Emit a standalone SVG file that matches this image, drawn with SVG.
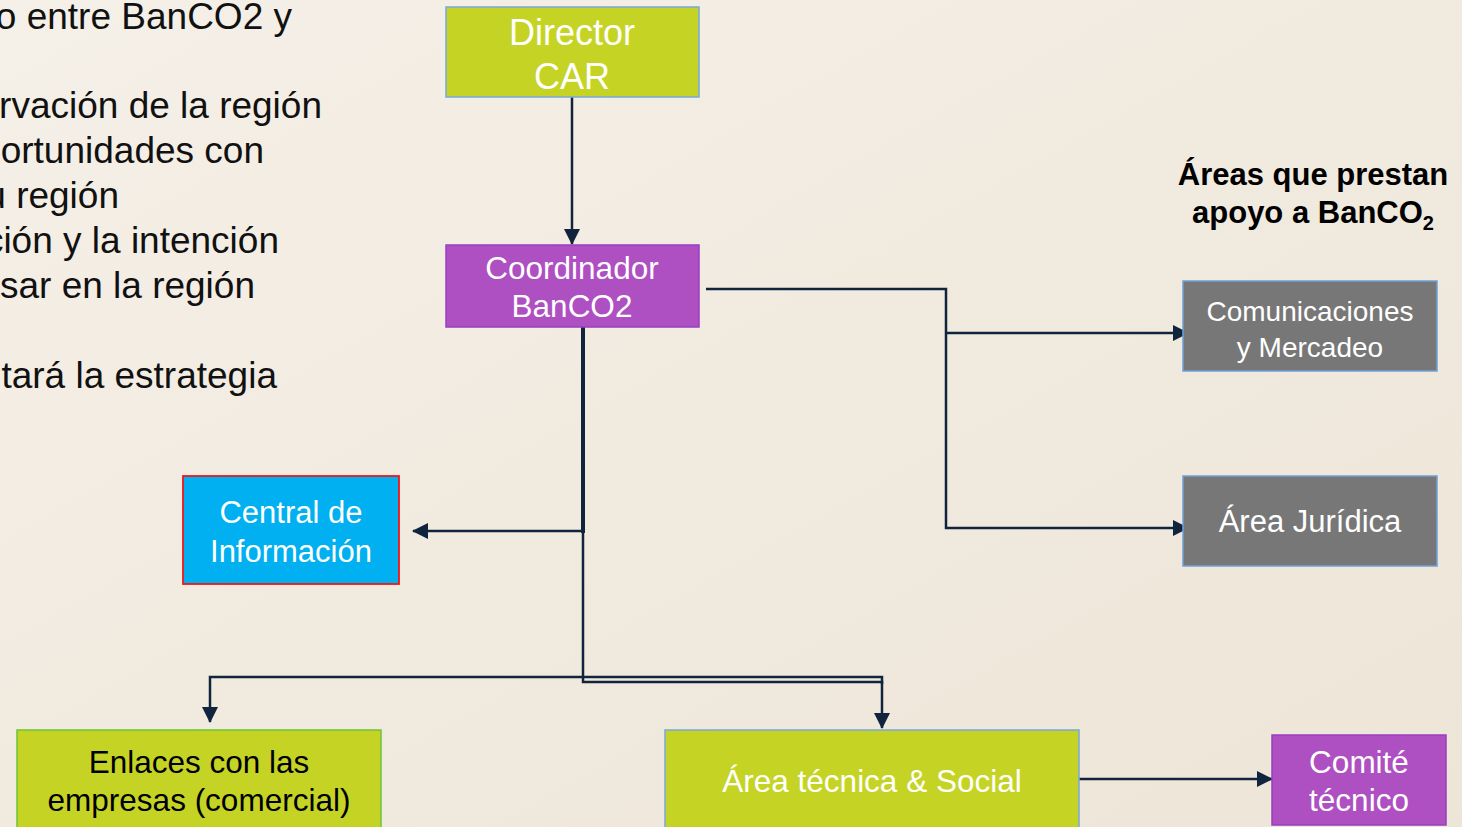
<svg xmlns="http://www.w3.org/2000/svg" width="1462" height="827" viewBox="0 0 1462 827">
<defs>
<linearGradient id="bg" x1="0" y1="0" x2="1" y2="1">
<stop offset="0" stop-color="#f5f0e8"/>
<stop offset="0.5" stop-color="#f1eadf"/>
<stop offset="1" stop-color="#ede5d7"/>
</linearGradient>
<marker id="arr" markerUnits="userSpaceOnUse" markerWidth="16" markerHeight="16" refX="15" refY="8" orient="auto">
<path d="M0,0 L16,8 L0,16 Z" fill="#10243e"/>
</marker>
</defs>
<style>
.t{font-family:"Liberation Sans",Arial,sans-serif;}
.w{fill:#ffffff;text-anchor:middle;}
.k{fill:#000000;text-anchor:middle;}
.side{font-size:37px;fill:#111111;text-anchor:end;}
.conn{fill:none;stroke:#10243e;stroke-width:2.5;}
.green{fill:#c5d424;}
.purple{fill:#ae4fc2;stroke:#9a3ec0;stroke-width:1.5;}
.gray{fill:#777777;stroke:#6fa0d8;stroke-width:1.5;}
</style>
<rect x="0" y="0" width="1462" height="827" fill="url(#bg)"/>

<g id="side-text" class="t side">
<text x="292" y="29">o entre BanCO2 y</text>
<text x="322" y="118">rvación de la región</text>
<text x="264" y="163">ortunidades con</text>
<text x="119" y="208">u región</text>
<text x="279" y="253">ción y la intención</text>
<text x="255" y="298">sar en la región</text>
<text x="277" y="388">tará la estrategia</text>
</g>

<g id="connectors">
<line class="conn" x1="572" y1="97" x2="572" y2="244" stroke-width="2" marker-end="url(#arr)"/>
<line x1="583" y1="322" x2="583" y2="533" stroke="#10243e" stroke-width="4"/>
<path class="conn" d="M583 531 H413" marker-end="url(#arr)"/>
<path class="conn" d="M583 530 V682 H882 V728" marker-end="url(#arr)"/>
<path class="conn" d="M583 677 H210 V722" marker-end="url(#arr)"/>
<path class="conn" d="M583 677 H882 V684"/>
<path class="conn" d="M706 289 H946 V528 H1188" marker-end="url(#arr)"/>
<path class="conn" d="M946 333 H1188" marker-end="url(#arr)"/>
<path class="conn" d="M1079 779 H1272" marker-end="url(#arr)"/>
</g>

<g id="node-director">
<rect x="446" y="7" width="253" height="90" class="green" stroke="#79a7dd" stroke-width="1.5"/>
<text class="t w" x="572" y="45" font-size="36">Director</text>
<text class="t w" x="572" y="89" font-size="36">CAR</text>
</g>

<g id="node-coordinador">
<rect x="446" y="245" width="253" height="82" class="purple"/>
<text class="t w" x="572" y="279" font-size="31.5">Coordinador</text>
<text class="t w" x="572" y="317" font-size="31.5">BanCO2</text>
</g>

<g id="node-central">
<rect x="183" y="476" width="216" height="108" fill="#00b0f0" stroke="#f01818" stroke-width="1.8"/>
<text class="t w" x="291" y="523" font-size="31">Central de</text>
<text class="t w" x="291" y="562" font-size="31">Información</text>
</g>

<g id="heading">
<text class="t k" x="1313" y="185" font-size="31" font-weight="bold">Áreas que prestan</text>
<text class="t k" x="1313" y="223" font-size="31" font-weight="bold">apoyo a BanCO<tspan font-size="20" dy="7">2</tspan></text>
</g>

<g id="node-comunicaciones">
<rect x="1183" y="281" width="254" height="90" class="gray"/>
<text class="t w" x="1310" y="321" font-size="28">Comunicaciones</text>
<text class="t w" x="1310" y="357" font-size="28">y Mercadeo</text>
</g>

<g id="node-juridica">
<rect x="1183" y="476" width="254" height="90" class="gray"/>
<text class="t w" x="1310" y="532" font-size="31">Área Jurídica</text>
</g>

<g id="node-enlaces">
<rect x="17" y="730" width="364" height="110" class="green" stroke="#6cc33a" stroke-width="1.5"/>
<text class="t k" x="199" y="773" font-size="31.5">Enlaces con las</text>
<text class="t k" x="199" y="811" font-size="31.5">empresas (comercial)</text>
</g>

<g id="node-tecnica">
<rect x="665" y="730" width="414" height="110" class="green" stroke="#79a7dd" stroke-width="1.5"/>
<text class="t w" x="872" y="792" font-size="31.5">Área técnica &amp; Social</text>
</g>

<g id="node-comite">
<rect x="1272" y="735" width="174" height="90" class="purple"/>
<text class="t w" x="1359" y="773" font-size="31.5">Comité</text>
<text class="t w" x="1359" y="811" font-size="31.5">técnico</text>
</g>
</svg>
